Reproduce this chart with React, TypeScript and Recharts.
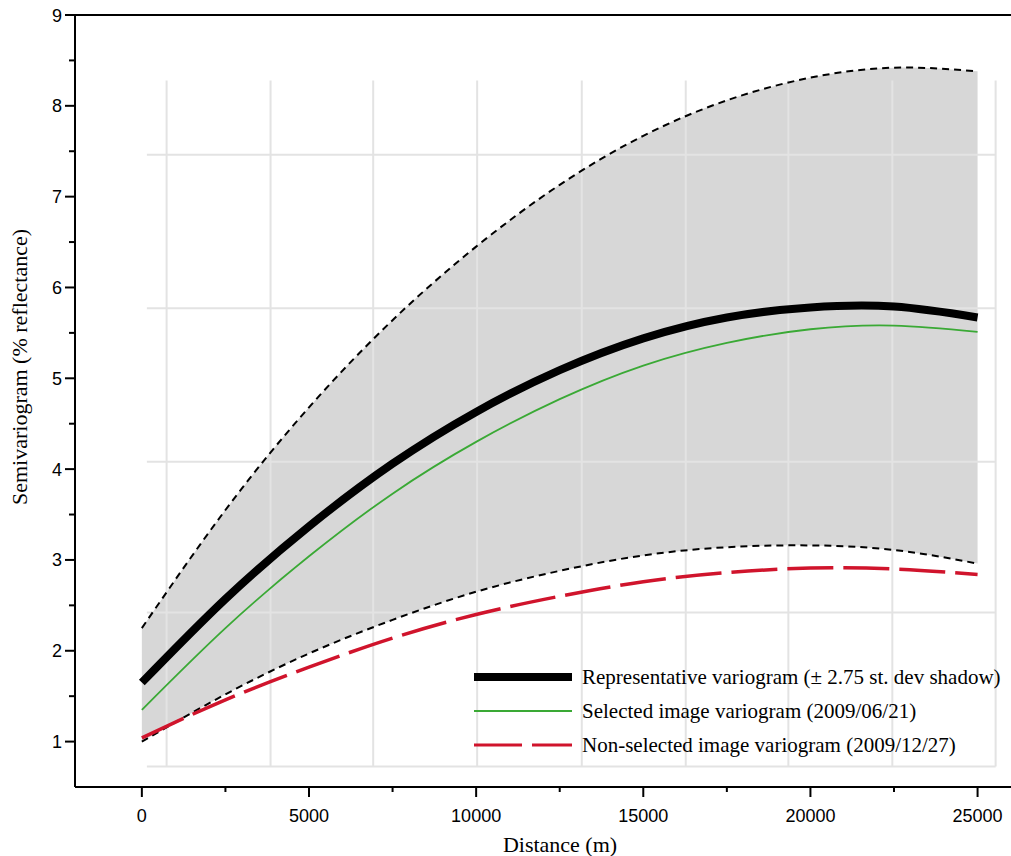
import { ComposedChart, Area, Line, XAxis, YAxis, ReferenceLine } from "recharts";

const DIST = [0, 2500, 5000, 7500, 10000, 12500, 15000, 17500, 20000, 22500, 25000];
const REPRESENTATIVE = [1.65, 2.57, 3.37, 4.06, 4.63, 5.09, 5.44, 5.67, 5.78, 5.79, 5.67];
const SELECTED = [1.35, 2.25, 3.04, 3.73, 4.3, 4.77, 5.14, 5.39, 5.54, 5.58, 5.51];
const NON_SELECTED = [1.04, 1.46, 1.82, 2.14, 2.4, 2.6, 2.76, 2.86, 2.91, 2.9, 2.84];
const UPPER = [2.25, 3.55, 4.68, 5.64, 6.45, 7.13, 7.67, 8.06, 8.31, 8.42, 8.38];
const LOWER = [1.0, 1.52, 1.97, 2.34, 2.65, 2.88, 3.05, 3.14, 3.16, 3.11, 2.96];

const X_TICKS = [0, 2500, 5000, 7500, 10000, 12500, 15000, 17500, 20000, 22500, 25000];
const Y_TICKS = [1, 1.5, 2, 2.5, 3, 3.5, 4, 4.5, 5, 5.5, 6, 6.5, 7, 7.5, 8, 8.5, 9];

// background grid of the original figure (not aligned with the ticks)
const GRID_X = [740, 3850, 6920, 10030, 13160, 16270, 19340, 22450, 25540];
const GRID_Y = [0.725, 2.42, 4.08, 5.77, 7.46];
const GRID_X_FROM = 150;
const GRID_X_TO = 25540;
const GRID_Y_FROM = 0.725;
const GRID_Y_TO = 8.28;

const GREEN = "#3aa935";
const RED = "#d0142c";
const SHADE = "#d7d7d7";
const GRID = "#e3e3e3";
const SANS = "'Liberation Sans', Arial, sans-serif";
const SERIF = "'Liberation Serif', 'Times New Roman', serif";

const data = DIST.map((d, i) => ({
  d,
  rep: REPRESENTATIVE[i],
  sel: SELECTED[i],
  non: NON_SELECTED[i],
  hi: UPPER[i],
  lo: LOWER[i],
  band: [LOWER[i], UPPER[i]],
}));

function XTick({ x, y, payload }: any) {
  const v = payload.value;
  const major = v % 5000 === 0;
  return (
    <g>
      <line x1={x} x2={x} y1={y} y2={y + (major ? 10 : 5)} stroke="#000" strokeWidth={2} />
      {major && (
        <text x={x} y={y + 35} textAnchor="middle" fontFamily={SANS} fontSize={18} fill="#000">
          {v}
        </text>
      )}
    </g>
  );
}

function YTick({ x, y, payload }: any) {
  const v = payload.value;
  const major = Number.isInteger(v);
  return (
    <g>
      <line x1={x - (major ? 10 : 6)} x2={x} y1={y} y2={y} stroke="#000" strokeWidth={2} />
      {major && (
        <text x={x - 13} y={y + 6.5} textAnchor="end" fontFamily={SANS} fontSize={18} fill="#000">
          {v}
        </text>
      )}
    </g>
  );
}

function LegendRow({ top, children, sample }: { top: number; children: string; sample: JSX.Element }) {
  return (
    <div style={{ position: "absolute", left: 474, top: top - 17, height: 34, display: "flex", alignItems: "center" }}>
      <svg width={100} height={34} style={{ display: "block" }}>
        {sample}
      </svg>
      <span style={{ marginLeft: 8, fontFamily: SERIF, fontSize: 21, color: "#000", whiteSpace: "nowrap" }}>
        {children}
      </span>
    </div>
  );
}

export default function App() {
  return (
    <div style={{ position: "relative", width: 1011, height: 856, background: "#fff" }}>
      <style>{"body{margin:0}"}</style>
      <ComposedChart width={1011} height={856} data={data} margin={{ top: 15, right: 0, bottom: 0, left: 0 }}>
        <XAxis
          dataKey="d"
          type="number"
          domain={[-2000, 26000]}
          ticks={X_TICKS}
          interval={0}
          height={69}
          tickSize={0}
          tickMargin={0}
          tickLine={false}
          axisLine={{ stroke: "#000", strokeWidth: 2 }}
          tick={<XTick />}
          allowDataOverflow
        />
        <YAxis
          type="number"
          domain={[0.5, 9]}
          ticks={Y_TICKS}
          interval={0}
          width={75}
          tickSize={0}
          tickMargin={0}
          tickLine={false}
          axisLine={{ stroke: "#000", strokeWidth: 2 }}
          tick={<YTick />}
          allowDataOverflow
        />
        <Area
          dataKey="band"
          type="natural"
          fill={SHADE}
          fillOpacity={1}
          stroke="none"
          isAnimationActive={false}
        />
        {GRID_X.map((gx) => (
          <ReferenceLine
            key={"gx" + gx}
            segment={[
              { x: gx, y: GRID_Y_FROM },
              { x: gx, y: GRID_Y_TO },
            ]}
            stroke={GRID}
            strokeWidth={2}
          />
        ))}
        {GRID_Y.map((gy) => (
          <ReferenceLine
            key={"gy" + gy}
            segment={[
              { x: GRID_X_FROM, y: gy },
              { x: GRID_X_TO, y: gy },
            ]}
            stroke={GRID}
            strokeWidth={2}
          />
        ))}
        {/* top frame line */}
        <ReferenceLine y={9} stroke="#000" strokeWidth={2} />
        <Line dataKey="hi" type="natural" stroke="#000" strokeWidth={2} strokeDasharray="7 5" dot={false} isAnimationActive={false} />
        <Line dataKey="lo" type="natural" stroke="#000" strokeWidth={2} strokeDasharray="7 5" dot={false} isAnimationActive={false} />
        <Line dataKey="non" type="natural" stroke={RED} strokeWidth={3.5} strokeDasharray="46 10" dot={false} isAnimationActive={false} />
        <Line dataKey="sel" type="natural" stroke={GREEN} strokeWidth={1.8} dot={false} isAnimationActive={false} />
        <Line dataKey="rep" type="natural" stroke="#000" strokeWidth={8} dot={false} isAnimationActive={false} />
      </ComposedChart>

      <div
        style={{
          position: "absolute",
          left: 560,
          top: 845,
          transform: "translate(-50%, -50%)",
          fontFamily: SERIF,
          fontSize: 22,
          whiteSpace: "nowrap",
        }}
      >
        Distance (m)
      </div>
      <div
        style={{
          position: "absolute",
          left: 20,
          top: 367,
          transform: "translate(-50%, -50%) rotate(-90deg)",
          fontFamily: SERIF,
          fontSize: 22,
          whiteSpace: "nowrap",
        }}
      >
        Semivariogram (% reflectance)
      </div>

      <LegendRow top={677} sample={<line x1={0} x2={98} y1={17} y2={17} stroke="#000" strokeWidth={8} />}>
        Representative variogram (± 2.75 st. dev shadow)
      </LegendRow>
      <LegendRow top={711} sample={<line x1={0} x2={98} y1={17} y2={17} stroke={GREEN} strokeWidth={1.8} />}>
        Selected image variogram (2009/06/21)
      </LegendRow>
      <LegendRow
        top={745}
        sample={<line x1={0} x2={98} y1={17} y2={17} stroke={RED} strokeWidth={3} strokeDasharray="48 10" />}
      >
        Non-selected image variogram (2009/12/27)
      </LegendRow>
    </div>
  );
}
